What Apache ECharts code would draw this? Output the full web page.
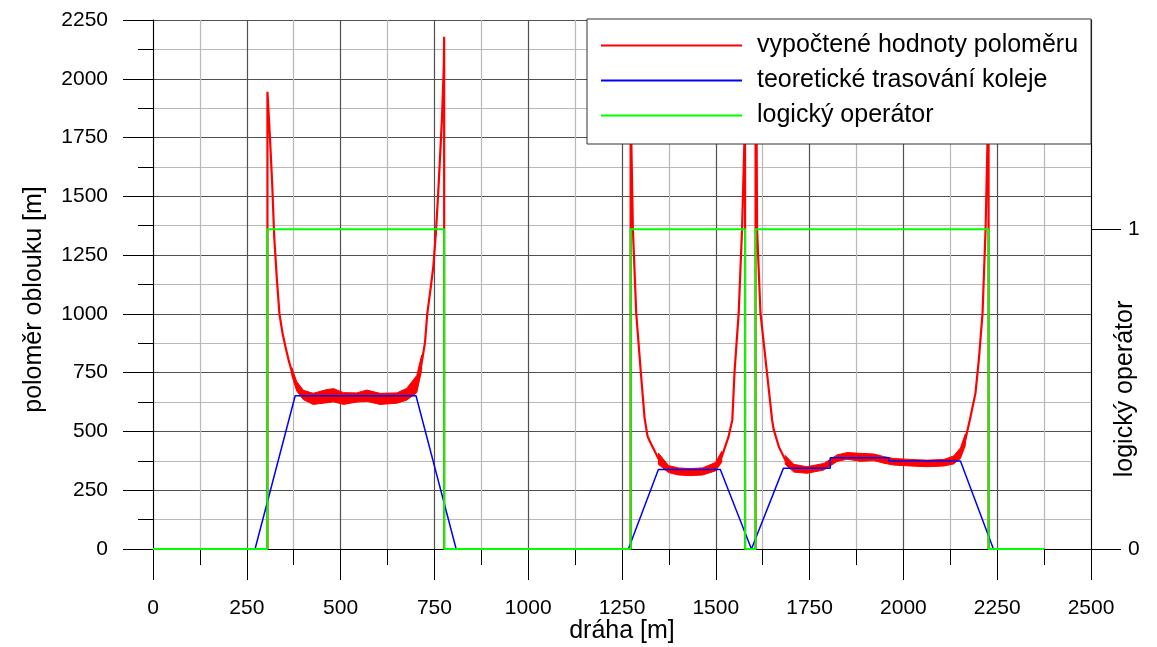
<!DOCTYPE html>
<html>
<head>
<meta charset="utf-8">
<script src="https://cdn.jsdelivr.net/npm/echarts@6/dist/echarts.min.js"></script>
<style>
html, body { margin: 0; padding: 0; background: #fff; }
#chart { width: 1157px; height: 647px; }
</style>
</head>
<body>
<div id="chart"></div>
<script>
// Tick values of the three axes
const xTicks = [0, 250, 500, 750, 1000, 1250, 1500, 1750, 2000, 2250, 2500];
const radiusTicks = [0, 250, 500, 750, 1000, 1250, 1500, 1750, 2000, 2250];
const operatorTicks = [0, 1];

// Computed curve radius (centre of the measured trace), distance in m / radius in m
const redX = [0, 305, 305, 307, 309, 312, 318, 323, 330, 337, 345, 353, 362, 370, 383, 401, 427, 463, 481, 508, 543, 570, 605, 650, 676, 703, 716, 725, 731, 740, 747, 754, 761, 770, 775, 776, 776,
  1273, 1273, 1275, 1279, 1288, 1300, 1310, 1318, 1325, 1347, 1374, 1400, 1432, 1465, 1499, 1516, 1534, 1544, 1550, 1561, 1570, 1576, 1578, 1578,
  1606, 1606, 1610, 1619, 1636, 1650, 1654, 1668, 1685, 1708, 1743, 1788, 1823, 1850, 1885, 1921, 1948, 1974, 2019, 2063, 2108, 2134, 2152, 2165, 2177, 2192, 2201, 2211, 2219, 2224, 2227, 2227, 2375];
const redR = [0, 0, 1945, 1945, 1830, 1740, 1541, 1330, 1150, 1000, 920, 860, 800, 755, 692, 655, 638, 650, 654, 640, 645, 652, 638, 642, 658, 700, 790, 880, 1000, 1110, 1200, 1344, 1541, 1825, 2050, 2179, 0,
  0, 2600, 1718, 1361, 1000, 755, 560, 480, 455, 385, 340, 330, 327, 330, 350, 393, 478, 549, 755, 1004, 1361, 1718, 2600, 0,
  0, 2600, 1361, 1004, 755, 549, 510, 435, 379, 343, 336, 350, 386, 396, 390, 390, 379, 371, 367, 364, 367, 379, 407, 464, 549, 662, 804, 1004, 1361, 1718, 2600, 0, 0];

// Scatter band of the computed radius inside the circular arcs (low / high edge)
const band1X = [370, 383, 401, 427, 463, 481, 508, 543, 570, 605, 650, 676, 703, 716];
const band1Low = [738, 672, 635, 615, 622, 626, 615, 625, 628, 615, 620, 633, 665, 760];
const band1High = [772, 712, 675, 662, 678, 682, 665, 664, 676, 662, 664, 683, 738, 825];
const band2X = [1347, 1374, 1400, 1432, 1465, 1499, 1516];
const band2Low = [360, 325, 315, 312, 315, 332, 370];
const band2High = [408, 355, 345, 342, 345, 368, 416];
const band3X = [1685, 1708, 1743, 1788, 1823, 1850, 1885, 1921, 1948, 1974, 2019, 2063, 2108, 2134, 2152, 2165];
const band3Low = [360, 327, 322, 336, 372, 382, 373, 376, 365, 357, 353, 350, 353, 362, 385, 440];
const band3High = [398, 360, 350, 364, 400, 410, 407, 404, 393, 385, 381, 378, 381, 396, 430, 490];

// Theoretical track layout (design radius with transition curves)
const blueX = [0, 272, 379, 701, 808, 1267, 1347, 1512, 1595, 1680, 1805, 1805, 1961, 1961, 2152, 2240, 2375];
const blueR = [0, 0, 652, 652, 0, 0, 338, 338, 0, 343, 343, 388, 388, 374, 374, 0, 0];

// Logical operator (1 = inside a curve); each point is where the new value starts
const greenX = [0, 305, 776, 1273, 1578, 1606, 2227, 2375];
const greenY = [0, 1, 0, 1, 0, 1, 0, 0];

const names = ['vypočtené hodnoty poloměru', 'teoretické trasování koleje', 'logický operátor'];

const FONT = "'Liberation Sans', Arial, sans-serif";

// The operator axis is scaled so that value 1 sits at 1360 m of the radius axis
const radiusMax = radiusTicks[radiusTicks.length - 1];
const operatorMax = radiusMax / 1360;

const pairs = (xs, ys) => xs.map((x, i) => [x, ys[i]]);
const bands = [
  { x: band1X, lo: band1Low, hi: band1High },
  { x: band2X, lo: band2Low, hi: band2High },
  { x: band3X, lo: band3Low, hi: band3High }
];

const chart = echarts.init(document.getElementById('chart'), null, { renderer: 'canvas' });

const option = {
  animation: false,
  backgroundColor: '#fff',
  grid: { left: 153, right: 66, top: 20, bottom: 98, containLabel: false, outerBoundsMode: 'none' },
  legend: {
    data: names,
    orient: 'vertical',
    left: 587,
    top: 19,
    z: 20,
    icon: 'rect',
    itemWidth: 141,
    itemHeight: 2,
    itemGap: 0,
    padding: [9, 13, 11, 14],
    backgroundColor: '#fff',
    borderColor: '#333',
    borderWidth: 1,
    textStyle: { fontFamily: FONT, fontSize: 25, color: '#000', lineHeight: 35, padding: [0, 0, 0, 10] }
  },
  xAxis: {
    type: 'value',
    min: xTicks[0],
    max: xTicks[xTicks.length - 1],
    interval: xTicks[1] - xTicks[0],
    name: 'dráha [m]',
    nameLocation: 'middle',
    nameGap: 70,
    nameMoveOverlap: false,
    nameTextStyle: { fontFamily: FONT, fontSize: 25, color: '#000' },
    axisLine: { show: true, onZero: false, lineStyle: { color: '#000', width: 1 } },
    axisTick: { show: true, inside: false, length: 31, lineStyle: { color: '#000', width: 1 } },
    minorTick: { show: true, splitNumber: 2, length: 16, lineStyle: { color: '#000', width: 1 } },
    axisLabel: { margin: 49, fontFamily: FONT, fontSize: 21, color: '#000', formatter: v => String(v) },
    splitLine: { show: true, lineStyle: { color: '#505050', width: 1.2 } },
    minorSplitLine: { show: true, lineStyle: { color: '#b8b8b8', width: 1.2 } }
  },
  yAxis: [
    {
      type: 'value',
      position: 'left',
      min: radiusTicks[0],
      max: radiusMax,
      interval: radiusTicks[1] - radiusTicks[0],
      name: 'poloměr oblouku [m]',
      nameLocation: 'middle',
      nameRotate: 90,
      nameGap: 106,
      nameMoveOverlap: false,
      nameTextStyle: { fontFamily: FONT, fontSize: 25, color: '#000', padding: [0, 30, 0, 0] },
      axisLine: { show: true, lineStyle: { color: '#000', width: 1 } },
      axisTick: { show: true, inside: false, length: 30, lineStyle: { color: '#000', width: 1 } },
      minorTick: { show: true, splitNumber: 2, length: 15, lineStyle: { color: '#000', width: 1 } },
      axisLabel: { margin: 45, fontFamily: FONT, fontSize: 21, color: '#000', formatter: v => String(v) },
      splitLine: { show: true, lineStyle: { color: '#505050', width: 1.2 } },
      minorSplitLine: { show: true, lineStyle: { color: '#b8b8b8', width: 1.2 } }
    },
    {
      type: 'value',
      position: 'right',
      min: 0,
      max: operatorMax,
      name: 'logický operátor',
      nameLocation: 'middle',
      nameRotate: 90,
      nameGap: 22,
      nameMoveOverlap: false,
      nameTextStyle: { fontFamily: FONT, fontSize: 25, color: '#000', padding: [0, 209, 0, 0] },
      axisLine: { show: true, lineStyle: { color: '#000', width: 1 } },
      axisTick: { show: true, inside: false, length: 30, customValues: operatorTicks, lineStyle: { color: '#000', width: 1 } },
      axisLabel: { margin: 37, customValues: operatorTicks, fontFamily: FONT, fontSize: 21, color: '#000' },
      splitLine: { show: false }
    }
  ],
  series: [
    {
      type: 'custom',
      name: 'band',
      silent: true,
      z: 2,
      data: bands.map(b => [b.x[0], b.lo[0]]),
      renderItem: function (params, api) {
        const b = bands[params.dataIndex];
        const pts = [];
        for (let i = 0; i < b.x.length; i++) pts.push(api.coord([b.x[i], b.hi[i]]));
        for (let i = b.x.length - 1; i >= 0; i--) pts.push(api.coord([b.x[i], b.lo[i]]));
        return { type: 'polygon', shape: { points: pts }, style: { fill: '#ff0000', stroke: '#ff0000', lineWidth: 1 } };
      }
    },
    {
      type: 'line',
      name: names[0],
      data: pairs(redX, redR),
      symbol: 'none',
      clip: true,
      z: 3,
      itemStyle: { color: '#ff0000' },
      lineStyle: { color: '#ff0000', width: 2.2 }
    },
    {
      type: 'line',
      name: names[1],
      data: pairs(blueX, blueR),
      symbol: 'none',
      z: 4,
      itemStyle: { color: '#0000ff' },
      lineStyle: { color: '#0000ff', width: 1.5 }
    },
    {
      type: 'line',
      name: names[2],
      yAxisIndex: 1,
      step: 'end',
      data: pairs(greenX, greenY),
      symbol: 'none',
      z: 5,
      itemStyle: { color: '#00ff00' },
      lineStyle: { color: '#00ff00', width: 2 }
    }
  ]
};

chart.setOption(option);
</script>
</body>
</html>
